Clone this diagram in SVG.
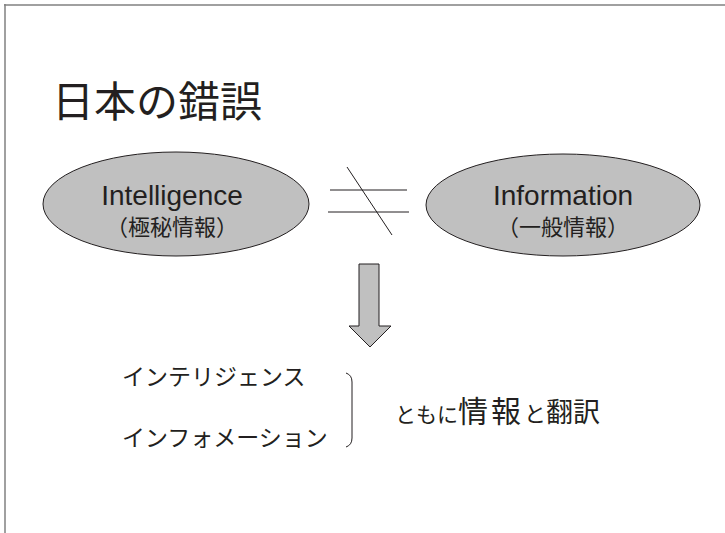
<svg xmlns="http://www.w3.org/2000/svg" width="725" height="533" viewBox="0 0 725 533">
<style>
.jp{font-family:"Liberation Sans","Noto Sans CJK JP",sans-serif;fill:#231f20}
.node{fill:#c0c0c0;stroke:#231f20;stroke-width:1}
.ln{stroke:#231f20;stroke-width:1;fill:none}
</style>
<rect width="725" height="533" fill="#fff"/>
<g id="frame">
<line x1="4" y1="5" x2="725" y2="5" stroke="#808080" stroke-width="1.5"/>
<line x1="5" y1="4" x2="5" y2="533" stroke="#808080" stroke-width="1.5"/>
</g>
<g id="title"><text class="jp" x="52" y="117" font-size="42">日本の錯誤</text></g>
<g id="intelligence">
<ellipse class="node" cx="176" cy="204" rx="133" ry="52"/>
<text class="jp" x="172" y="205" font-size="28" text-anchor="middle">Intelligence</text>
<text class="jp" x="172" y="235" font-size="22" text-anchor="middle">（極秘情報）</text>
</g>
<g id="information">
<ellipse class="node" cx="563" cy="205" rx="137" ry="51"/>
<text class="jp" x="563" y="205" font-size="28" text-anchor="middle">Information</text>
<text class="jp" x="563" y="235" font-size="22" text-anchor="middle">（一般情報）</text>
</g>
<g id="connectors">
<g id="noteq">
<line class="ln" x1="330" y1="190" x2="407" y2="190"/>
<line class="ln" x1="328" y1="212" x2="409" y2="212"/>
<line class="ln" x1="347" y1="167" x2="392" y2="235"/>
</g>
<g id="arrow">
<polygon points="359,264 379,264 379,326 391,326 370,347 349,326 359,326" fill="#c0c0c0" stroke="#231f20" stroke-width="1"/>
</g>
<path id="brace" class="ln" d="M346,373 Q352,375 352,382 L352,438 Q352,445 346,447"/>
</g>
<g id="katakana">
<text class="jp" x="122" y="385" font-size="23">インテリジェンス</text>
<text class="jp" x="122" y="446" font-size="23">インフォメーション</text>
</g>
<g id="conclusion">
<text class="jp" x="395" y="422" font-size="21">ともに<tspan font-size="30" letter-spacing="3">情報</tspan><tspan font-size="22">と</tspan><tspan font-size="27">翻訳</tspan></text>
</g>
</svg>
